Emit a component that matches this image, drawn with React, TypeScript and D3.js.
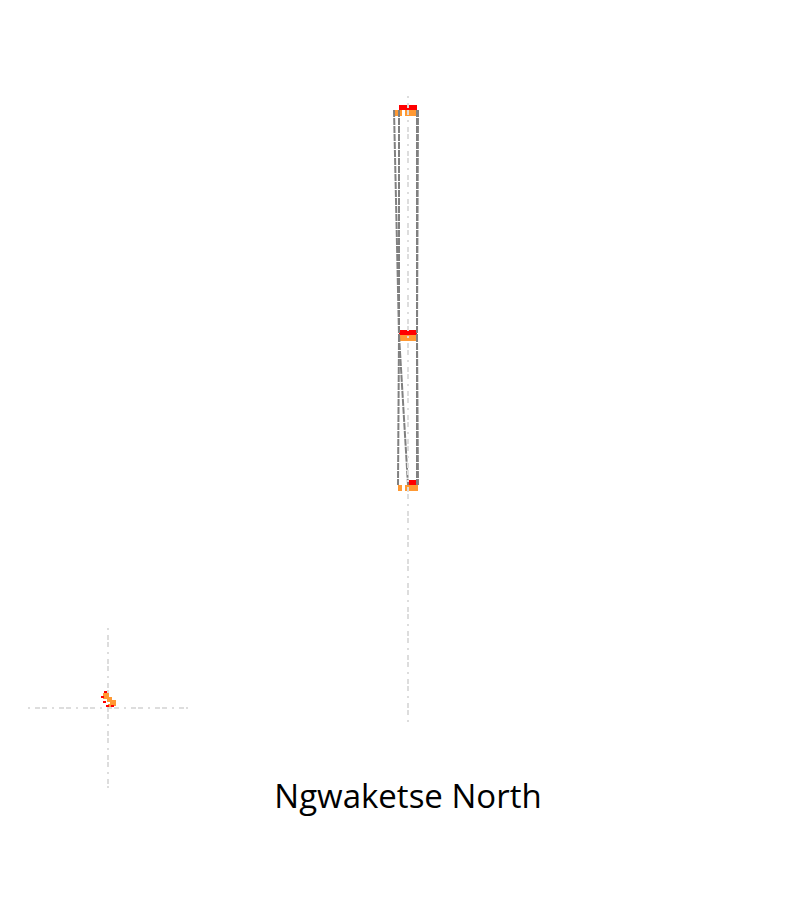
import * as d3 from "d3";

// levels (top to bottom) and where they sit on the vertical value axis
const levels = ["A", "B", "C"];
const levelValue = [0, 60, 100];

// bar segments per level: [x0, x1] offsets from the axis
const redSegments = [
    [[-9, 9]],
    [[-9, 9]],
    [[0, 9]],
];
const orangeSegments = [
    [[-14, -6], [-3, 10]],
    [[-9, 9]],
    [[-10, -6], [-3, 10]],
];

// dashed links between consecutive levels: [fromLevel, fromX, toX]
const links = [
    [0, -14, -9], [0, -9, -9], [0, 9, 9], [0, 10, 9],
    [1, -9, -10], [1, -9, 0], [1, 9, 9], [1, 9, 10],
];

// inset mini marks: [x, y, w, h, party]
const insetMarks = [
    [-5, -15, 6, 6, "o"], [-1, -11, 5, 5, "o"], [2, -8, 6, 6, "o"], [0, -4, 4, 3, "o"],
    [-7, -12, 3, 2, "r"], [-4, -17, 3, 2, "r"], [-5, -7, 3, 2, "r"], [-2, -3, 3, 2, "r"], [3, -3, 3, 2, "r"],
];

const title = "Ngwaketse North";
const colors = {r: "#ff0000", o: "#ff9933"};

const W = 800, H = 900;

const App = () => {
    const x = d3.scaleLinear().domain([-50, 50]).range([358, 458]);
    const y = d3.scaleLinear().domain([0, 100]).range([110, 485]);
    const ix = d3.scaleLinear().domain([-80, 80]).range([28, 188]);
    const iy = d3.scaleLinear().domain([-80, 80]).range([628, 788]);
    const dash = "2,5,5,2,5,5";

    return <svg width={W} height={H} style={{position: "absolute", left: 0, top: 0}}>
        <rect width={W} height={H} fill="#fff"/>

        {/* inset crosshair */}
        <line x1={ix(-80)} x2={ix(80)} y1={iy(0)} y2={iy(0)} stroke="#dddddd" strokeWidth={2} strokeDasharray={dash}/>
        <line x1={ix(0)} x2={ix(0)} y1={iy(-80)} y2={iy(80)} stroke="#dddddd" strokeWidth={2} strokeDasharray={dash}/>
        {insetMarks.map((m, i) =>
            <rect key={i} x={ix(m[0] as number)} y={iy(m[1] as number)}
                  width={ix(m[2] as number) - ix(0)} height={iy(m[3] as number) - iy(0)}
                  fill={colors[m[4] as "r" | "o"]}/>)}

        {/* bars */}
        {levels.map((l, i) => <g key={l}>
            {redSegments[i].map((s, j) =>
                <rect key={"r" + j} x={x(s[0])} y={y(levelValue[i]) - 5} width={x(s[1]) - x(s[0])} height={5}
                      fill={colors.r}/>)}
            {orangeSegments[i].map((s, j) =>
                <rect key={"o" + j} x={x(s[0])} y={y(levelValue[i])} width={x(s[1]) - x(s[0])} height={6}
                      fill={colors.o}/>)}
        </g>)}

        {/* links */}
        {links.map((k, i) =>
            <line key={i} x1={x(k[1])} x2={x(k[2])} y1={y(levelValue[k[0]])} y2={y(levelValue[k[0] + 1])}
                  stroke="#808080" strokeWidth={2} strokeDasharray="7,1"/>)}

        {/* main axis */}
        <line x1={x(0)} x2={x(0)} y1={96} y2={724} stroke="#dddddd" strokeWidth={2} strokeDasharray={dash}/>

        <text x={x(0)} y={808} textAnchor="middle" fontFamily="'Open Sans', sans-serif" fontSize={33}
              fill="#000">{title}</text>
    </svg>
}

export default App
